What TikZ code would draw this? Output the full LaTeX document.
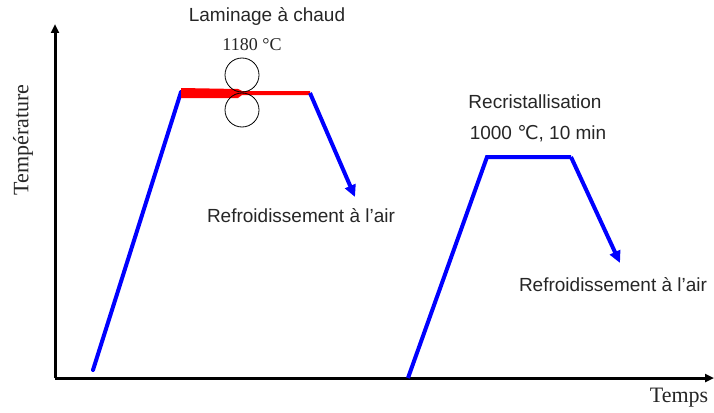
\documentclass[tikz,border=0pt]{standalone}
\usepackage{fontspec}
\setmainfont{Liberation Serif}
\setsansfont{Liberation Sans}
\newfontfamily\symfont{DejaVu Sans}
\usetikzlibrary{arrows.meta}
\begin{document}
\begin{tikzpicture}[x=1pt,y=-1pt,
  axis/.style={line width=3pt,-{Triangle[length=9pt,width=8pt]}},
  curve/.style={draw=blue,line width=4pt},
  cool/.style={draw=blue,line width=4pt,-{Triangle[length=12pt,width=11pt]}},
  sanslabel/.style={font=\sffamily\fontsize{19}{22}\selectfont,inner sep=0pt,text=black!85},
  seriflabel/.style={font=\fontsize{22}{25}\selectfont,inner sep=0pt,text=black!85},
  roll/.style={draw=black,line width=0.8pt}]
\useasboundingbox (0,0) rectangle (714,412);
% axes
\coordinate (O) at (55,378);
\coordinate (Ytop) at (55,24);
\coordinate (Xend) at (714,378);
\draw[axis] (O) -- (Ytop);
\draw[axis] (O) -- (Xend);
\node[seriflabel,rotate=90] (tlabel) at (23,140) {Température};
\node[seriflabel] (temps) at (679,398) {Temps};
% first cycle
\coordinate (a0) at (93,370);
\coordinate (a1) at (181,92);
\coordinate (a2) at (310,93);
\coordinate (a3) at (355,197);
\draw[curve,line cap=round] (a0) -- (a1);
\fill[red] (181,88) -- (238,89) -- (242,91) -- (310,91) -- (310,95) -- (242,95) -- (238,98) -- (181,98) -- cycle;
\draw[cool] (a2) -- (a3);
\draw[roll] (242,75) circle (17);
\draw[roll] (242,110) circle (17);
\node[sanslabel] (lam) at (267,16) {Laminage à chaud};
\node[seriflabel,font=\fontsize{18}{20}\selectfont] (t1) at (252,45) {1180 °C};
\node[sanslabel] (r1) at (301,216) {Refroidissement à l’air};
% second cycle
\coordinate (b0) at (408,378);
\coordinate (b1) at (487,157);
\coordinate (b2) at (571,157);
\coordinate (b3) at (620,263);
\draw[curve] (b0) -- (b1) -- (b2);
\draw[cool] (b2) -- (b3);
\node[sanslabel] (rec) at (535,102) {Recristallisation};
\node[sanslabel] (t2) at (538,134) {1000 {\symfont ℃}, 10 min};
\node[sanslabel] (r2) at (613,285) {Refroidissement à l’air};
\end{tikzpicture}
\end{document}
